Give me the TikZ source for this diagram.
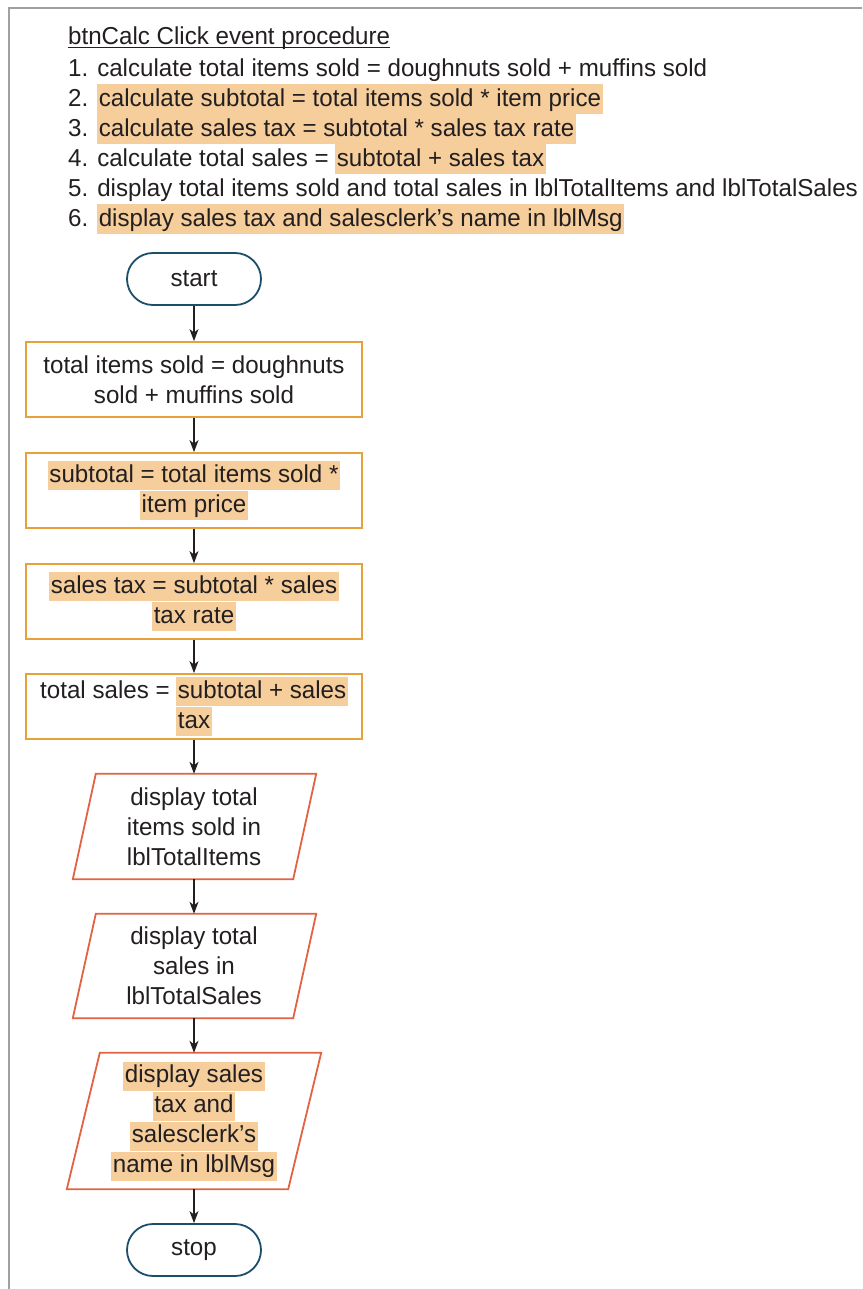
\documentclass[tikz,border=0pt]{standalone}
\usepackage{fontspec}
\setmainfont{Liberation Sans}[FakeStretch=0.985]
\usetikzlibrary{arrows.meta,calc}
\definecolor{hlc}{RGB}{245,206,155}
\definecolor{framec}{RGB}{160,160,160}
\definecolor{termc}{RGB}{28,78,106}
\definecolor{procc}{RGB}{231,161,58}
\definecolor{ioc}{RGB}{226,98,66}
\definecolor{txtc}{RGB}{35,31,32}
\newcommand\hlt[1]{{\setlength\fboxsep{0pt}\colorbox{hlc}{\hspace{1.5pt}\rule[-7pt]{0pt}{30pt}#1\hspace{1.5pt}}}}
\newcommand\hlf[1]{{\setlength\fboxsep{0pt}\colorbox{hlc}{\hspace{1.5pt}\rule[-8pt]{0pt}{29pt}#1\hspace{1.5pt}}}}
\begin{document}
\begin{tikzpicture}[x=1pt,y=-1pt,
  font=\fontsize{24.5}{30}\selectfont, text=txtc,
  listline/.style={anchor=base west, inner sep=0pt},
  term/.style={draw=termc, line width=1.8pt, rounded corners=26pt, minimum width=134pt, minimum height=52pt, inner sep=0pt},
  proc/.style={draw=procc, line width=1.8pt, minimum width=336pt, inner sep=0pt, align=center},
  iotext/.style={inner sep=0pt, align=center},
  iobox/.style={draw=ioc, line width=1.8pt, line join=miter},
  arr/.style={-{Stealth[length=12pt,width=9pt,inset=3.5pt]}, line width=1.4pt, draw=txtc}
]
\useasboundingbox (0,0) rectangle (862,1289);
\draw[framec, line width=2.5pt] (9,1289) -- (9,8) -- (862,8);

% pseudocode list
\node[listline] (t0) at (68,45) {btnCalc Click event procedure};
\draw[line width=1.2pt, txtc] ($(t0.base west)+(0,2.5)$) -- ($(t0.base east)+(0,2.5)$);
\node[listline] (t1) at (68,77) {1. calculate total items sold = doughnuts sold + muffins sold};
\node[listline] (t2) at (68,107) {2. \hlt{calculate subtotal = total items sold * item price}};
\node[listline] (t3) at (68,137) {3. \hlt{calculate sales tax = subtotal * sales tax rate}};
\node[listline] (t4) at (68,167) {4. calculate total sales = \hlt{subtotal + sales tax}};
\node[listline] (t5) at (68,197) {5. display total items sold and total sales in lblTotalItems and lblTotalSales};
\node[listline] (t6) at (68,227) {6. \hlt{display sales tax and salesclerk’s name in lblMsg}};

% flowchart
\node[term] (start) at (194,279) {start};
\node[proc, minimum height=75pt] (b1) at (194,379.5) {total items sold = doughnuts\\sold + muffins sold};
\node[proc, minimum height=75pt] (b2) at (194,490.5) {\hlf{subtotal = total items sold *}\\\hlf{item price}};
\node[proc, minimum height=75pt] (b3) at (194,601.5) {\hlf{sales tax = subtotal * sales}\\\hlf{tax rate}};
\node[proc, minimum height=65pt] (b4) at (194,706.5) {total sales = \hlf{subtotal + sales}\\\hlf{tax}};

\node[iotext, minimum width=220pt, minimum height=105pt] (p1) at (194,826.5) {display total\\items sold in\\lblTotalItems};
\draw[iobox] ($(p1.north west)+(12,0)$) -- ($(p1.north east)+(12,0)$) -- ($(p1.south east)+(-11,0)$) -- ($(p1.south west)+(-11,0)$) -- cycle;

\node[iotext, minimum width=220pt, minimum height=104pt] (p2) at (194,966) {display total\\sales in\\lblTotalSales};
\draw[iobox] ($(p2.north west)+(12,0)$) -- ($(p2.north east)+(12,0)$) -- ($(p2.south east)+(-11,0)$) -- ($(p2.south west)+(-11,0)$) -- cycle;

\node[iotext, minimum width=221pt, minimum height=136pt] (p3) at (194,1121) {\hlf{display sales}\\\hlf{tax and}\\\hlf{salesclerk’s}\\\hlf{name in lblMsg}};
\draw[iobox] ($(p3.north west)+(16.5,0)$) -- ($(p3.north east)+(16.5,0)$) -- ($(p3.south east)+(-16.5,0)$) -- ($(p3.south west)+(-16.5,0)$) -- cycle;

\node[term] (stop) at (194,1250) {stop};

\draw[arr] (start) -- (b1);
\draw[arr] (b1) -- (b2);
\draw[arr] (b2) -- (b3);
\draw[arr] (b3) -- (b4);
\draw[arr] (b4.south) -- (p1.north);
\draw[arr] (p1.south) -- (p2.north);
\draw[arr] (p2.south) -- (p3.north);
\draw[arr] (p3.south) -- (stop.north);
\end{tikzpicture}
\end{document}
